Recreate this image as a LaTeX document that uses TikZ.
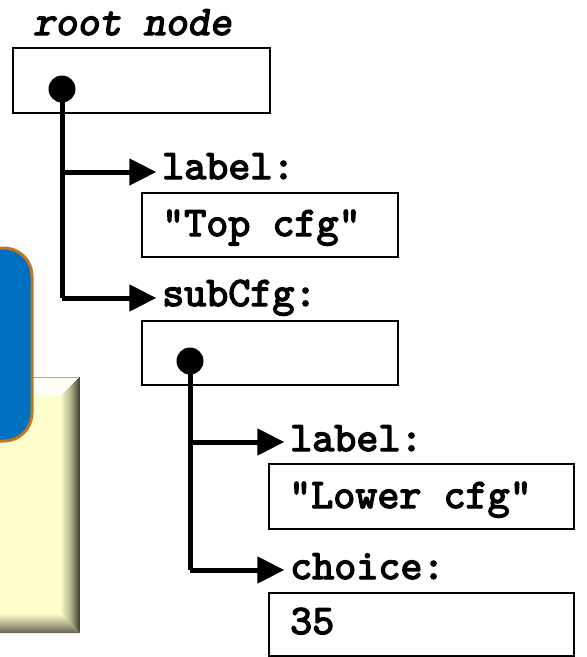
\documentclass[tikz,border=0pt]{standalone}
\usepackage{fontspec}
\setmonofont{lmmono10-regular.otf}[
  BoldFont=lmmono10-regular.otf, BoldFeatures={FakeBold=3.2},
  ItalicFont=lmmonoslant10-regular.otf,
  BoldItalicFont=lmmonoslant10-regular.otf, BoldItalicFeatures={FakeBold=3.2}]
\usetikzlibrary{arrows.meta}
\definecolor{boxblue}{HTML}{0070C0}
\definecolor{boxorange}{HTML}{C0761E}
\definecolor{paleyel}{HTML}{FEFECC}
\definecolor{darkbev}{HTML}{3C3C2A}
\definecolor{midbev}{HTML}{B8B890}
\tikzset{
  valbox/.style={draw=black, line width=1.3pt},
  conn/.style={line width=5pt, -{Triangle[length=27pt,width=26pt]}},
  trunk/.style={line width=5pt},
  mono/.style={font=\fontsize{42}{46}\selectfont\ttfamily\bfseries, inner sep=0pt, anchor=base west},
  dotnode/.style={circle, fill=black, inner sep=0pt, minimum size=27pt}
}
\begin{document}
\begin{tikzpicture}[x=1pt,y=-1pt]
\useasboundingbox (0,0) rectangle (587,657);
\begin{scope}
\clip (0,0) rectangle (587,657);
% yellow bevelled panel
\fill[paleyel] (-20,376) rectangle (80,633);
\shade[left color=paleyel, right color=midbev] (60,396) -- (60,613) -- (70,623) -- (70,386) -- cycle;
\shade[left color=midbev, right color=darkbev] (70,386) -- (80,376) -- (80,633) -- (70,623) -- cycle;
\shade[top color=paleyel, bottom color=midbev] (-20,613) -- (60,613) -- (70,623) -- (-20,623) -- cycle;
\shade[top color=midbev, bottom color=darkbev!80] (-20,623) -- (70,623) -- (80,633) -- (-20,633) -- cycle;
\fill[white!85!paleyel] (-20,376) -- (80,376) -- (60,396) -- (-20,396) -- cycle;
\draw[gray!70, line width=1pt] (-20,377) -- (78,377);
% blue rounded panel
\draw[fill=boxblue, draw=boxorange, line width=3pt, rounded corners=28pt] (-40,248) rectangle (32,441);
\end{scope}

% root node
\node[mono, font=\fontsize{42}{46}\selectfont\ttfamily\bfseries\itshape] (rootlbl) at (33,35) {root node};
\draw[valbox] (13,48) rectangle (270,113);
\node[dotnode] (d1) at (62,89) {};
\coordinate (b1) at (62,172);
\coordinate (b2) at (62,298);
\node[inner sep=0pt] (t1) at (157,172) {};
\node[inner sep=0pt] (t2) at (157,298) {};
\draw[trunk] (d1.center) -- (b2);
\draw[conn] (b1) -- (t1);
\draw[conn] (b2) -- (t2);
\node[mono] (lab1) at (162,179) {label:};
\draw[valbox] (142,193) rectangle (398,257);
\node[mono] (val1) at (162,236) {"Top cfg"};
\node[mono] (sub1) at (162,306) {subCfg:};
\draw[valbox] (142,321) rectangle (398,385);

% sub config
\node[dotnode] (d2) at (190,361) {};
\coordinate (b3) at (190,442);
\coordinate (b4) at (190,570);
\node[inner sep=0pt] (t3) at (285,442) {};
\node[inner sep=0pt] (t4) at (285,570) {};
\draw[trunk] (d2.center) -- (b4);
\draw[conn] (b3) -- (t3);
\draw[conn] (b4) -- (t4);
\node[mono] (lab2) at (290,451) {label:};
\draw[valbox] (269,464) rectangle (574,529);
\node[mono] (val2) at (289,508) {"Lower cfg"};
\node[mono] (ch2) at (290,579) {choice:};
\draw[valbox] (269,593) rectangle (574,656);
\node[mono] (val3) at (290,634) {35};
\end{tikzpicture}
\end{document}
